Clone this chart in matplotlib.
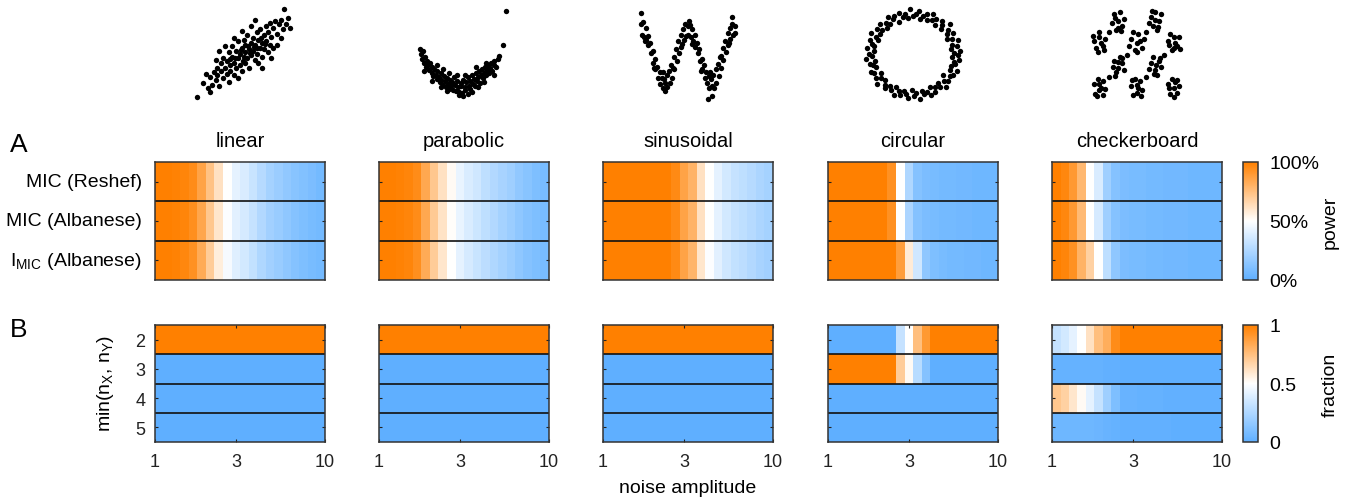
import numpy as np
import matplotlib
matplotlib.use("Agg")
import matplotlib.pyplot as plt
from matplotlib.colors import LinearSegmentedColormap
from matplotlib.ticker import NullLocator
from matplotlib.cm import ScalarMappable

plt.rcParams['font.family'] = ['Liberation Sans', 'DejaVu Sans']
plt.rcParams['mathtext.default'] = 'regular'

# ---- data ----
shapes = ["linear", "parabolic", "sinusoidal", "circular", "checkerboard"]
statistics = ["MIC (Reshef)", "MIC (Albanese)", r"I$_{MIC}$ (Albanese)"]
grid_sizes = ["2", "3", "4", "5"]

# noise amplitude at the centre of each column (log spaced, 1 to 10)
noise = [1.06, 1.19, 1.33, 1.50, 1.68, 1.88, 2.11, 2.37, 2.66, 2.99,
         3.35, 3.76, 4.22, 4.73, 5.31, 5.96, 6.68, 7.50, 8.41, 9.44]

power_linear = [
    [1.0, 1.0, 0.99, 0.98, 0.95, 0.86, 0.74, 0.62, 0.50, 0.42, 0.38, 0.33, 0.27, 0.22, 0.19, 0.16, 0.13, 0.11, 0.09, 0.07],
    [1.0, 1.0, 0.99, 0.98, 0.94, 0.85, 0.72, 0.60, 0.49, 0.41, 0.37, 0.32, 0.26, 0.21, 0.18, 0.15, 0.12, 0.10, 0.08, 0.07],
    [1.0, 1.0, 0.99, 0.97, 0.93, 0.83, 0.70, 0.57, 0.47, 0.40, 0.36, 0.31, 0.25, 0.21, 0.18, 0.15, 0.12, 0.10, 0.08, 0.07],
]
power_parabolic = [
    [1.0, 1.0, 0.99, 0.98, 0.95, 0.84, 0.72, 0.62, 0.52, 0.43, 0.38, 0.35, 0.30, 0.26, 0.23, 0.20, 0.16, 0.13, 0.10, 0.08],
    [1.0, 1.0, 0.99, 0.98, 0.95, 0.84, 0.71, 0.61, 0.51, 0.43, 0.38, 0.34, 0.30, 0.26, 0.22, 0.19, 0.15, 0.12, 0.10, 0.08],
    [1.0, 1.0, 0.99, 0.98, 0.94, 0.83, 0.70, 0.60, 0.50, 0.42, 0.37, 0.33, 0.29, 0.25, 0.22, 0.19, 0.15, 0.12, 0.10, 0.08],
]
power_sinusoidal = [
    [1.0, 1.0, 1.0, 1.0, 1.0, 1.0, 1.0, 1.0, 0.96, 0.86, 0.80, 0.62, 0.50, 0.42, 0.36, 0.32, 0.30, 0.27, 0.24, 0.22],
    [1.0, 1.0, 1.0, 1.0, 1.0, 1.0, 1.0, 1.0, 0.96, 0.86, 0.80, 0.62, 0.50, 0.42, 0.36, 0.32, 0.30, 0.27, 0.24, 0.22],
    [1.0, 1.0, 1.0, 1.0, 1.0, 1.0, 1.0, 1.0, 0.96, 0.86, 0.79, 0.60, 0.49, 0.41, 0.35, 0.31, 0.29, 0.26, 0.23, 0.21],
]
power_circular = [
    [1.0, 1.0, 1.0, 1.0, 1.0, 1.0, 1.0, 0.93, 0.50, 0.25, 0.12, 0.09, 0.08, 0.07, 0.07, 0.06, 0.06, 0.05, 0.05, 0.05],
    [1.0, 1.0, 1.0, 1.0, 1.0, 1.0, 1.0, 0.93, 0.50, 0.24, 0.12, 0.09, 0.08, 0.07, 0.07, 0.06, 0.06, 0.05, 0.05, 0.05],
    [1.0, 1.0, 1.0, 1.0, 1.0, 1.0, 1.0, 1.0, 0.88, 0.58, 0.35, 0.15, 0.10, 0.08, 0.07, 0.07, 0.06, 0.06, 0.05, 0.05],
]
power_checkerboard = [
    [1.0, 0.97, 0.90, 0.78, 0.50, 0.38, 0.20, 0.12, 0.09, 0.08, 0.08, 0.07, 0.07, 0.06, 0.06, 0.06, 0.05, 0.05, 0.05, 0.05],
    [1.0, 0.97, 0.90, 0.77, 0.50, 0.37, 0.20, 0.12, 0.09, 0.08, 0.08, 0.07, 0.07, 0.06, 0.06, 0.06, 0.05, 0.05, 0.05, 0.05],
    [1.0, 0.98, 0.93, 0.80, 0.68, 0.50, 0.30, 0.15, 0.09, 0.08, 0.08, 0.07, 0.07, 0.06, 0.06, 0.06, 0.05, 0.05, 0.05, 0.05],
]

ones = [1.0] * 20
zeros = [0.0] * 20
frac_linear = [ones, zeros, zeros, zeros]
frac_parabolic = [ones, zeros, zeros, zeros]
frac_sinusoidal = [ones, zeros, zeros, zeros]
frac_circular = [
    [0.0, 0.0, 0.0, 0.0, 0.0, 0.0, 0.0, 0.0, 0.32, 0.50, 0.75, 0.90, 1.0, 1.0, 1.0, 1.0, 1.0, 1.0, 1.0, 1.0],
    [1.0, 1.0, 1.0, 1.0, 1.0, 1.0, 1.0, 1.0, 0.70, 0.52, 0.28, 0.12, 0.0, 0.0, 0.0, 0.0, 0.0, 0.0, 0.0, 0.0],
    zeros,
    zeros,
]
frac_checkerboard = [
    [0.32, 0.36, 0.42, 0.50, 0.62, 0.75, 0.82, 0.95, 1.0, 1.0, 1.0, 1.0, 1.0, 1.0, 1.0, 1.0, 1.0, 1.0, 1.0, 1.0],
    [0.02, 0.02, 0.02, 0.02, 0.02, 0.02, 0.01, 0.01, 0.0, 0.0, 0.0, 0.0, 0.0, 0.0, 0.0, 0.0, 0.0, 0.0, 0.0, 0.0],
    [0.72, 0.68, 0.60, 0.52, 0.42, 0.32, 0.20, 0.10, 0.03, 0.03, 0.02, 0.02, 0.02, 0.01, 0.01, 0.01, 0.01, 0.01, 0.01, 0.01],
    [0.05, 0.05, 0.05, 0.05, 0.05, 0.04, 0.03, 0.02, 0.01, 0.01, 0.01, 0.01, 0.01, 0.01, 0.0, 0.0, 0.0, 0.0, 0.0, 0.0],
]

# example scatter samples above each column
linear_x = [-2.6, -2.3, -2.0, -1.9, -1.8, -1.7, -1.6, -1.5, -1.5, -1.4,
            -1.3, -1.3, -1.2, -1.2, -1.1, -1.0, -1.0, -0.9, -0.9, -0.8,
            -0.8, -0.7, -0.7, -0.6, -0.6, -0.5, -0.5, -0.4, -0.4, -0.4,
            -0.3, -0.3, -0.2, -0.2, -0.1, -0.1, 0.0, 0.0, 0.0, 0.1,
            0.1, 0.2, 0.2, 0.3, 0.3, 0.4, 0.4, 0.5, 0.5, 0.6,
            0.6, 0.7, 0.7, 0.8, 0.8, 0.9, 0.9, 1.0, 1.0, 1.1,
            1.1, 1.2, 1.2, 1.3, 1.3, 1.4, 1.5, 1.5, 1.6, 1.7,
            1.8, 1.9, 2.0, 2.1, 2.2, 2.4, -1.1, -1.6, 0.9, 1.4,
            -0.2, 0.3, -2.1, -1.9, 1.7, 0.5, -0.6, 1.9, -1.4, 2.3,
            0.15, -0.25, 0.45, -0.55, 0.65, -0.15, 0.25, 0.85, -0.85, 1.05]
linear_y = [-2.8, -1.9, -2.2, -1.5, -2.0, -1.2, -1.7, -0.9, -1.4, -2.1,
            -0.6, -1.1, -1.6, -0.3, -0.9, -1.3, -0.5, 0.1, -1.8, -0.7,
            -1.1, -0.2, 0.5, -1.4, -0.6, 0.2, -0.9, -0.3, 0.8, -1.6,
            0.0, -0.7, 0.4, -1.1, -0.2, 0.9, 0.1, -0.6, 0.6, -0.3,
            1.2, 0.3, -0.9, 0.7, -0.1, 1.0, 0.2, -0.4, 0.6, 1.4,
            0.0, 0.9, -0.6, 0.4, 1.6, 0.7, -0.2, 1.2, 0.3, 1.8,
            0.8, 0.1, 1.4, 2.0, 0.6, 1.1, 1.7, 0.4, 2.1, 1.3,
            1.9, 2.2, 1.6, 2.9, 1.9, 1.7, 0.5, -0.4, -0.9, -0.3,
            1.5, 1.8, -1.3, -2.5, 0.6, 2.2, 1.0, 1.0, 0.2, 2.3,
            0.5, 0.25, 0.45, -0.25, 0.35, -0.45, 0.05, 1.05, -0.35, 0.65]

parab_x = [-1.0, -0.98, -0.95, -0.93, -0.9, -0.88, -0.85, -0.83, -0.8, -0.78,
           -0.75, -0.72, -0.7, -0.68, -0.65, -0.62, -0.6, -0.58, -0.55, -0.52,
           -0.5, -0.48, -0.45, -0.42, -0.4, -0.38, -0.35, -0.32, -0.3, -0.28,
           -0.25, -0.22, -0.2, -0.18, -0.15, -0.12, -0.1, -0.08, -0.05, -0.02,
           0.0, 0.02, 0.05, 0.08, 0.1, 0.12, 0.15, 0.18, 0.2, 0.22,
           0.25, 0.28, 0.3, 0.32, 0.35, 0.38, 0.4, 0.42, 0.45, 0.48,
           0.5, 0.52, 0.55, 0.58, 0.6, 0.62, 0.65, 0.68, 0.7, 0.72,
           0.75, 0.78, 0.8, 0.85, 0.88, 0.9, 1.0, 1.08, -0.3, 0.1,
           -0.5, 0.4, -0.1, 0.25, -0.6, 0.6, -0.05, 0.05,
           -0.7, -0.35, 0.15, 0.55, -0.9, 0.8, -0.45, 0.35]
parab_y = [0.95, 0.82, 0.7, 0.9, 0.6, 0.75, 0.5, 0.65, 0.55, 0.42,
           0.6, 0.35, 0.5, 0.28, 0.45, 0.3, 0.2, 0.4, 0.25, 0.12,
           0.35, 0.18, 0.05, 0.28, 0.15, 0.0, 0.22, 0.08, -0.05, 0.18,
           0.02, 0.12, -0.08, 0.25, 0.05, -0.1, 0.15, 0.0, -0.12, 0.1,
           0.02, -0.15, 0.18, 0.0, -0.08, 0.12, 0.25, 0.03, -0.05, 0.15,
           0.3, 0.08, 0.2, 0.02, 0.35, 0.15, 0.25, 0.4, 0.1, 0.3,
           0.45, 0.22, 0.35, 0.5, 0.3, 0.42, 0.55, 0.35, 0.48, 0.6,
           0.4, 0.55, 0.65, 0.5, 0.7, 0.78, 1.05, 1.9, 0.35, 0.3,
           0.0, 0.0, 0.3, -0.12, 0.55, 0.6, -0.2, -0.22,
           0.15, -0.1, -0.18, 0.12, 0.4, 0.3, 0.45, 0.5]

sin_x = [0.0, 0.01, 0.025, 0.03, 0.05, 0.055, 0.075, 0.08, 0.1, 0.105,
         0.125, 0.13, 0.15, 0.155, 0.175, 0.18, 0.2, 0.205, 0.225, 0.23,
         0.25, 0.255, 0.26, 0.275, 0.28, 0.3, 0.305, 0.325, 0.33, 0.35,
         0.355, 0.375, 0.38, 0.4, 0.405, 0.425, 0.43, 0.45, 0.455, 0.475,
         0.48, 0.5, 0.505, 0.51, 0.525, 0.53, 0.55, 0.555, 0.575, 0.58,
         0.6, 0.605, 0.625, 0.63, 0.65, 0.655, 0.675, 0.68, 0.7, 0.705,
         0.725, 0.73, 0.75, 0.755, 0.76, 0.775, 0.78, 0.8, 0.805, 0.825,
         0.83, 0.85, 0.855, 0.875, 0.88, 0.9, 0.905, 0.925, 0.93, 0.95,
         0.955, 0.975, 0.98, 1.0, 1.005, 0.005, 0.97, 0.72,
         0.04, 0.14, 0.24, 0.34, 0.44, 0.54, 0.64, 0.74, 0.84, 0.94]
sin_y = [1.2, 0.8, 1.25, 0.7, 1.05, 0.6, 0.75, 0.4, 0.5, 0.1,
         0.2, -0.25, -0.1, -0.5, -0.4, -0.8, -0.6, -1.05, -0.8, -1.2,
         -0.85, -1.3, -1.0, -0.7, -1.15, -0.55, -1.0, -0.35, -0.8, -0.05,
         -0.5, 0.25, -0.2, 0.55, 0.1, 0.8, 0.35, 1.0, 0.6, 1.2,
         0.75, 1.1, 0.8, 1.3, 1.15, 0.7, 1.0, 0.55, 0.8, 0.35,
         0.5, 0.1, 0.25, -0.2, -0.1, -0.5, -0.35, -0.8, -0.6, -1.0,
         -0.75, -1.2, -0.85, -1.1, -1.5, -0.7, -1.2, -0.5, -1.0, -0.3,
         -0.75, 0.0, -0.45, 0.3, -0.15, 0.55, 0.15, 0.85, 0.4, 1.05,
         0.65, 1.2, 0.8, 1.1, 0.85, 1.6, 1.45, -1.6,
         0.55, -0.45, -0.6, -0.45, 0.45, 0.45, -0.55, -0.6, -0.05, 0.5]

circ_angle = [2, 5, 9, 12, 15, 19, 23, 26, 30, 33,
              37, 41, 44, 47, 51, 55, 58, 62, 65, 69,
              72, 76, 80, 83, 86, 90, 94, 97, 101, 104,
              108, 112, 115, 118, 122, 126, 129, 133, 136, 140,
              143, 147, 151, 154, 157, 161, 165, 168, 172, 175,
              179, 182, 186, 190, 193, 196, 200, 204, 207, 211,
              214, 218, 221, 225, 229, 232, 235, 239, 243, 246,
              250, 253, 257, 260, 264, 268, 271, 274, 278, 282,
              285, 289, 292, 296, 299, 303, 307, 310, 313, 317,
              321, 324, 328, 331, 335, 338, 342, 346, 349, 352,
              356, 359]
circ_radius = [0.95, 1.08, 0.88, 1.02, 0.93, 1.1, 0.97, 0.86, 1.05, 0.92,
               1.0, 1.12, 0.9, 0.98, 1.06, 0.87, 1.01, 0.94, 1.09, 0.91,
               1.03, 0.96, 0.88, 1.07, 0.99, 0.93, 1.11, 0.9, 1.0, 0.95,
               1.05, 0.86, 1.02, 0.97, 1.08, 0.92, 1.0, 0.89, 1.06, 0.94,
               1.03, 0.9, 1.1, 0.96, 0.87, 1.04, 0.99, 0.93, 1.07, 0.91,
               1.01, 0.95, 1.09, 0.88, 1.02, 0.97, 0.92, 1.06, 1.0, 0.86,
               1.04, 0.94, 1.1, 0.9, 0.98, 1.05, 0.93, 1.01, 0.89, 1.08,
               0.96, 1.03, 0.91, 0.99, 1.06, 0.87, 1.02, 0.95, 1.1, 0.92,
               1.0, 0.97, 1.07, 0.88, 1.04, 0.94, 1.01, 0.9, 1.09, 0.96,
               1.03, 0.86, 0.99, 1.05, 0.93, 1.08, 0.91, 1.0, 0.95, 1.06,
               0.89, 1.02]

checker_x = [0.8, 1.0, 1.2, 0.9, 1.1, 0.7, 1.3, 1.0, 0.85, 1.15,
             2.8, 3.0, 3.2, 2.9, 3.1, 3.3, 2.7, 3.0, 3.15, 2.85,
             -0.3, 0.0, 0.2, -0.2, 0.1, 0.3, -0.1, 0.0, 0.25, -0.35,
             1.7, 2.0, 2.3, 1.9, 2.1, 1.6, 2.2, 1.8, 2.4, 2.0,
             3.7, 4.0, 4.2, 3.9, 4.1, 4.3, 3.8, 4.0, 4.35, 3.75,
             0.8, 1.0, 1.2, 0.9, 1.1, 0.75, 1.3, 1.0, 0.85, 1.2,
             2.8, 3.0, 3.2, 2.9, 3.1, 3.3, 2.7, 3.05, 2.95, 3.25,
             -0.3, 0.0, 0.2, -0.1, 0.1, -0.25, 0.3, 0.0, -0.15, 0.2,
             1.7, 2.0, 2.2, 1.9, 2.1, 1.8, 2.3, 2.0, 1.75, 2.25,
             3.7, 4.0, 4.2, 3.9, 4.1, 3.8, 4.3, 4.0, 3.75, 4.2,
             0.5, 1.5, 2.5, 3.5, 0.5, 2.5]
checker_y = [3.3, 3.0, 2.8, 2.6, 3.4, 2.9, 3.1, 2.7, 3.15, 2.55,
             3.2, 3.4, 3.0, 2.8, 2.6, 3.3, 2.9, 3.05, 2.75, 3.45,
             2.1, 2.3, 1.9, 1.8, 2.0, 2.2, 1.6, 2.5, 1.7, 2.35,
             2.2, 2.0, 1.8, 1.7, 2.4, 1.9, 2.1, 2.5, 2.2, 1.6,
             2.1, 2.3, 1.9, 1.7, 2.0, 2.3, 2.4, 1.8, 1.75, 1.95,
             1.2, 0.9, 1.1, 0.7, 1.4, 0.95, 0.8, 1.15, 0.55, 1.35,
             1.1, 0.8, 1.2, 1.4, 0.6, 0.95, 0.85, 1.05, 0.65, 1.35,
             0.2, -0.1, 0.3, 0.4, 0.0, -0.25, -0.05, 0.2, -0.35, -0.3,
             0.1, -0.2, 0.3, 0.4, 0.0, -0.3, -0.1, 0.15, 0.35, -0.35,
             0.2, 0.0, -0.2, 0.4, 0.25, -0.25, 0.1, -0.4, 0.0, 0.35,
             2.5, 1.5, 0.5, 1.5, 0.5, 2.5]

power_data = [power_linear, power_parabolic, power_sinusoidal, power_circular, power_checkerboard]
frac_data = [frac_linear, frac_parabolic, frac_sinusoidal, frac_circular, frac_checkerboard]

circ_x = np.array(circ_radius) * np.cos(np.radians(circ_angle))
circ_y = np.array(circ_radius) * np.sin(np.radians(circ_angle))
scatter_data = [(linear_x, linear_y), (parab_x, parab_y), (sin_x, sin_y),
                (circ_x, circ_y), (checker_x, checker_y)]

# ---- layout (pixels of a 1360x502 canvas) ----
W, H = 1360, 502
fig = plt.figure(figsize=(W / 100, H / 100), dpi=100)


def px_box(x0, y0, x1, y1):
    return [x0 / W, 1 - y1 / H, (x1 - x0) / W, (y1 - y0) / H]


cmap = LinearSegmentedColormap.from_list("bwo", ["#5FAFFF", "#FFFFFF", "#FF8000"])

nz = np.array(noise)
edges = np.concatenate([[1.0], np.sqrt(nz[:-1] * nz[1:]), [10.0]])

panel_x = [155, 379, 603, 828, 1052]
panel_w = 170
scatter_boxes = [(197, 10, 290, 98), (420, 12, 506, 97), (641, 14, 735, 100),
                 (866, 10, 960, 100), (1093, 12, 1180, 98)]


def draw_heat(ax, vals):
    vals = np.array(vals)
    nrows = vals.shape[0]
    ax.pcolormesh(edges, np.arange(nrows + 1), vals, cmap=cmap, vmin=0, vmax=1,
                  shading='flat')
    ax.set_xscale('log')
    ax.set_xlim(1, 10)
    ax.set_ylim(nrows, 0)
    ax.xaxis.set_minor_locator(NullLocator())
    for r in range(1, nrows):
        ax.axhline(r, color='#111111', lw=1.2)
    ax.set_yticks(np.arange(nrows) + 0.5)
    ax.set_yticklabels([])
    ax.tick_params(direction='in', length=2.5, width=0.8, top=True, right=True,
                   labelsize=13, colors='#222222', labelcolor='#222222')
    for s in ax.spines.values():
        s.set_linewidth(1.1)
        s.set_color('#333333')


for i, name in enumerate(shapes):
    x0 = panel_x[i]
    cx = x0 + panel_w / 2

    # scatter sample
    sx0, sy0, sx1, sy1 = scatter_boxes[i]
    sax = fig.add_axes(px_box(sx0, sy0, sx1, sy1))
    xs, ys = scatter_data[i]
    sax.scatter(xs, ys, s=15, color='black', linewidths=0, clip_on=False)
    sax.set_xlim(min(xs), max(xs))
    sax.set_ylim(min(ys), max(ys))
    sax.axis('off')

    # power row
    axA = fig.add_axes(px_box(x0, 163, x0 + panel_w, 281))
    draw_heat(axA, power_data[i])
    axA.set_xticks([])
    fig.text(cx / W, 1 - 142 / H, name, ha='center', va='center', fontsize=14.5)

    # fraction row
    axB = fig.add_axes(px_box(x0, 326, x0 + panel_w, 443))
    draw_heat(axB, frac_data[i])
    axB.set_xticks([1, 3, 10])
    axB.set_xticklabels(['1', '3', '10'])
    axB.tick_params(axis='x', pad=8)
    if i == 0:
        axB.set_yticklabels(grid_sizes)
        axB.tick_params(axis='y', pad=7)

for j, lab in enumerate(statistics):
    fig.text(142 / W, 1 - (182.7 + j * 39.3) / H, lab, ha='right', va='center', fontsize=14)

fig.text(10 / W, 1 - 145 / H, "A", ha='left', va='center', fontsize=19)
fig.text(10 / W, 1 - 330 / H, "B", ha='left', va='center', fontsize=19)
fig.text(106 / W, 1 - 383 / H, r"min(n$_X$, n$_Y$)", ha='center', va='center',
         rotation=90, fontsize=14)
fig.text(688 / W, 1 - 489 / H, "noise amplitude", ha='center', va='center', fontsize=14)

# colour bars
for (y0, y1), ticks, label in [((163, 281), ['0%', '50%', '100%'], 'power'),
                               ((326, 443), ['0', '0.5', '1'], 'fraction')]:
    cax = fig.add_axes(px_box(1243, y0, 1258, y1))
    sm = ScalarMappable(cmap=cmap, norm=plt.Normalize(0, 1))
    cb = fig.colorbar(sm, cax=cax, ticks=[0, 0.5, 1])
    cb.ax.set_yticklabels(ticks)
    cb.ax.tick_params(length=0, pad=8, labelsize=14)
    cb.outline.set_linewidth(1.1)
    cb.outline.set_edgecolor('#333333')
    fig.text(1330 / W, 1 - (y0 + y1) / 2 / H, label, rotation=90, ha='center',
             va='center', fontsize=14)

fig.savefig("out.png", dpi=100)
